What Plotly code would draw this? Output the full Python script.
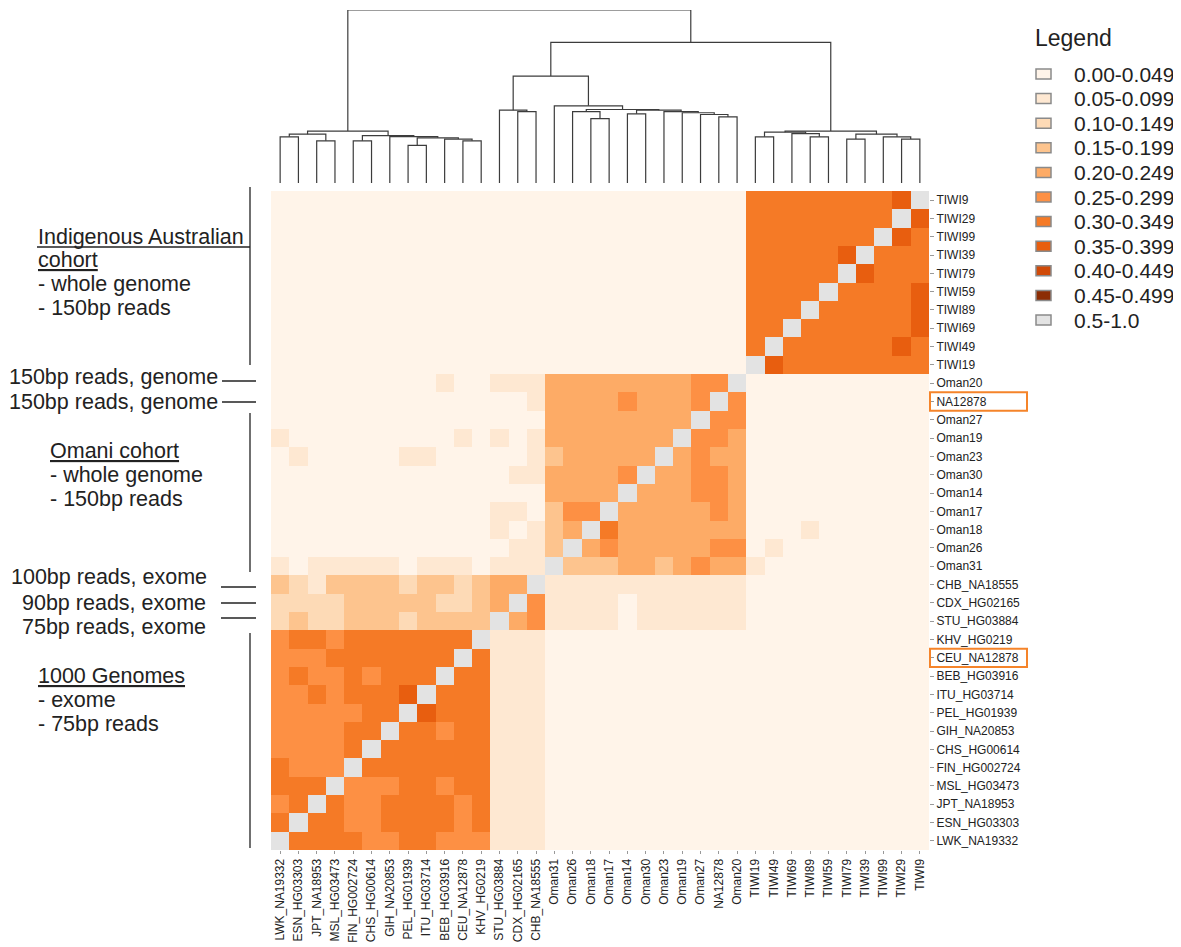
import plotly.graph_objects as go

# ---------------- data ----------------
col_labels = ["LWK_NA19332", "ESN_HG03303", "JPT_NA18953", "MSL_HG03473", "FIN_HG002724",
              "CHS_HG00614", "GIH_NA20853", "PEL_HG01939", "ITU_HG03714", "BEB_HG03916",
              "CEU_NA12878", "KHV_HG0219", "STU_HG03884", "CDX_HG02165", "CHB_NA18555",
              "Oman31", "Oman26", "Oman18", "Oman17", "Oman14", "Oman30", "Oman23", "Oman19",
              "Oman27", "NA12878", "Oman20", "TIWI19", "TIWI49", "TIWI69", "TIWI89", "TIWI59",
              "TIWI79", "TIWI39", "TIWI99", "TIWI29", "TIWI9"]

row_labels = ["TIWI9", "TIWI29", "TIWI99", "TIWI39", "TIWI79", "TIWI59", "TIWI89", "TIWI69",
              "TIWI49", "TIWI19", "Oman20", "NA12878", "Oman27", "Oman19", "Oman23", "Oman30",
              "Oman14", "Oman17", "Oman18", "Oman26", "Oman31", "CHB_NA18555", "CDX_HG02165",
              "STU_HG03884", "KHV_HG0219", "CEU_NA12878", "BEB_HG03916", "ITU_HG03714",
              "PEL_HG01939", "GIH_NA20853", "CHS_HG00614", "FIN_HG002724", "MSL_HG03473",
              "JPT_NA18953", "ESN_HG03303", "LWK_NA19332"]

bin_labels = ["0.00-0.049", "0.05-0.099", "0.10-0.149", "0.15-0.199", "0.20-0.249",
              "0.25-0.299", "0.30-0.349", "0.35-0.399", "0.40-0.449", "0.45-0.499", "0.5-1.0"]
bin_colors = ["#FFF4E9", "#FEE8D2", "#FDDAB6", "#FDC48E", "#FDAB66", "#FD9044",
              "#F57A26", "#E85E0F", "#D04A08", "#8C2D04", "#E3E3E3"]

# similarity bin of every cell (hex digit = index into bin_labels, A = 0.5-1.0)
# rows top -> bottom (row_labels), columns left -> right (col_labels)
# column blocks: 1000G (12) | exome (3) | Oman (11) | TIWI (10)
level_rows = [
    "000000000000" "000" "00000000000" "666666667A",
    "000000000000" "000" "00000000000" "66666666A7",
    "000000000000" "000" "00000000000" "6666666A76",
    "000000000000" "000" "00000000000" "666667A666",
    "000000000000" "000" "00000000000" "66666A7666",
    "000000000000" "000" "00000000000" "6666A66667",
    "000000000000" "000" "00000000000" "666A666667",
    "000000000000" "000" "00000000000" "66A6666667",
    "000000000000" "000" "00000000000" "6A66666676",
    "000000000000" "000" "00000000000" "A766666666",
    "000000000100" "111" "4444444455A" "0000000000",
    "000000000000" "001" "444454445A5" "0000000000",
    "000000000000" "000" "44444444A55" "0000000000",
    "100000000010" "101" "4444444A554" "0000000000",
    "010000011000" "001" "344444A4544" "0000000000",
    "000000000000" "011" "44445A44554" "0000000000",
    "000000000000" "000" "4444A444554" "0000000000",
    "000000000000" "110" "355A4444454" "0000000000",
    "000000000000" "101" "34A64444444" "0001000000",
    "000000000000" "011" "3A454444455" "0100000000",
    "101111101110" "111" "A3334434544" "1000000000",
    "321333323323" "44A" "11111111111" "0000000000",
    "222233333223" "4A5" "11110111111" "0000000000",
    "232233323333" "A45" "11110111111" "0000000000",
    "56656666666A" "111" "00000000000" "0000000000",
    "5556666666A6" "111" "00000000000" "0000000000",
    "565565666A66" "111" "00000000000" "0000000000",
    "55656667A666" "111" "00000000000" "0000000000",
    "5555566A7666" "111" "00000000000" "0000000000",
    "555566A66566" "111" "00000000000" "0000000000",
    "55556A666666" "111" "00000000000" "0000000000",
    "6555A6666666" "111" "00000000000" "0000000000",
    "666A55566566" "111" "00000000000" "0000000000",
    "56A655666656" "111" "00000000000" "0000000000",
    "6A6655666656" "111" "00000000000" "0000000000",
    "A66665566555" "111" "00000000000" "0000000000",
]

# dendrogram linkage: (left id, right id, merge height); ids >= 36 refer to earlier merges
linkage = [
    (0, 1, 0.267), (2, 3, 0.244), (36, 37, 0.282), (4, 5, 0.244), (7, 8, 0.217),
    (10, 11, 0.244), (9, 41, 0.254), (40, 42, 0.261), (6, 43, 0.268), (39, 44, 0.274),
    (38, 45, 0.300), (13, 14, 0.413), (12, 47, 0.421), (17, 18, 0.372), (16, 49, 0.413),
    (19, 20, 0.400), (24, 25, 0.382), (23, 52, 0.396), (22, 53, 0.406), (21, 54, 0.413),
    (51, 55, 0.421), (50, 56, 0.425), (15, 57, 0.446), (48, 58, 0.618), (26, 27, 0.267),
    (29, 30, 0.267), (28, 61, 0.285), (60, 62, 0.294), (31, 32, 0.254), (34, 35, 0.254),
    (33, 65, 0.267), (64, 66, 0.282), (63, 67, 0.300), (59, 68, 0.813), (46, 69, 1.000),
]

highlighted = ["NA12878", "CEU_NA12878"]

left_text = [
    ("Indigenous Australian", 37, 237),
    ("<u>cohort</u>", 37, 260),
    ("- whole genome", 37, 284),
    ("- 150bp reads", 37, 308),
    ("150bp reads, genome", 8, 377),
    ("150bp reads, genome", 8, 402),
    ("<u>Omani cohort</u>", 49, 451),
    ("- whole genome", 49, 475),
    ("- 150bp reads", 49, 499),
    ("100bp reads, exome", 10, 577),
    ("90bp reads, exome", 21, 603),
    ("75bp reads, exome", 21, 627),
    ("<u>1000 Genomes</u>", 37, 676),
    ("- exome", 37, 700),
    ("- 75bp reads", 37, 724),
]

# ---------------- build ----------------
PAGE_W, PAGE_H = 1181, 947
OFF = 8                      # default body margin of the html page
W, H = PAGE_W - OFF, PAGE_H - OFF


def fx(x):
    return (x - OFF) / W


def fy(y):
    return 1 - (y - OFF) / H


n = len(col_labels)
levels = [[int(ch, 16) for ch in row] for row in level_rows]

nb = len(bin_colors)
colorscale = []
for i, c in enumerate(bin_colors):
    colorscale.append([i / nb, c])
    colorscale.append([(i + 1) / nb, c])

fig = go.Figure()
fig.add_trace(go.Heatmap(
    z=levels, x=list(range(n)), y=list(range(n)),
    colorscale=colorscale, zmin=-0.5, zmax=nb - 0.5, showscale=False,
    hoverinfo="skip", xaxis="x", yaxis="y"))

# dendrogram from linkage
pos = {i: float(i) for i in range(n)}
hgt = {i: 0.0 for i in range(n)}
dx, dy = [], []
for k, (a, b, h) in enumerate(linkage):
    xa, xb = pos[a], pos[b]
    dx += [xa, xa, xb, xb, None]
    dy += [hgt[a], h, h, hgt[b], None]
    pos[n + k] = (xa + xb) / 2
    hgt[n + k] = h
fig.add_trace(go.Scatter(x=dx, y=dy, mode="lines", line=dict(color="#3c3c3c", width=1.2),
                         hoverinfo="skip", showlegend=False, xaxis="x2", yaxis="y2"))

hx0, hx1 = 271, 929
hy0, hy1 = 191, 850
leaf_y, top_y = 183, 10      # dendrogram leaf ends / root height (page px)
font_family = "Liberation Sans, Arial, sans-serif"

fig.update_layout(
    width=W, height=H, margin=dict(l=0, r=0, t=0, b=0),
    paper_bgcolor="white", plot_bgcolor="white", showlegend=False,
    font=dict(family=font_family, color="#222222"),
    xaxis=dict(domain=[fx(hx0), fx(hx1)], range=[-0.5, n - 0.5], anchor="y",
               tickmode="array", tickvals=list(range(n)), ticktext=col_labels,
               tickangle=-90, tickfont=dict(size=12, color="#222"), ticks="outside",
               ticklen=3, tickcolor="#999", showgrid=False, zeroline=False, showline=False),
    yaxis=dict(domain=[fy(hy1), fy(hy0)], range=[n - 0.5, -0.5], anchor="x", side="right",
               tickmode="array", tickvals=list(range(n)), ticktext=row_labels,
               tickfont=dict(size=12, color="#222"), ticks="outside", ticklen=4,
               tickcolor="#999", showgrid=False, zeroline=False, showline=False),
    xaxis2=dict(domain=[fx(hx0), fx(hx1)], range=[-0.5, n - 0.5], anchor="y2", visible=False),
    yaxis2=dict(domain=[fy(leaf_y), fy(top_y)], range=[0, 1.0], anchor="x2", visible=False),
)

shapes = []
annotations = []

# highlight boxes around row labels
for lab in highlighted:
    r = row_labels.index(lab)
    shapes.append(dict(type="rect", xref="paper", yref="y", x0=fx(930), x1=fx(1027),
                       y0=r - 0.5, y1=r + 0.5, line=dict(color="#F5842A", width=2)))

# legend
annotations.append(dict(text="Legend", x=fx(1033), y=fy(38), xref="paper", yref="paper",
                        xanchor="left", yanchor="middle", showarrow=False,
                        font=dict(size=23, color="#222")))
for i, (lab, c) in enumerate(zip(bin_labels, bin_colors)):
    cy = 74 + i * 24.6
    shapes.append(dict(type="rect", xref="paper", yref="paper", x0=fx(1036), x1=fx(1051),
                       y0=fy(cy - 5), y1=fy(cy + 5), fillcolor=c,
                       line=dict(color="#8a8a8a", width=1.5)))
    annotations.append(dict(text=lab, x=fx(1072), y=fy(cy), xref="paper", yref="paper",
                            xanchor="left", yanchor="middle", showarrow=False,
                            font=dict(size=21, color="#222")))

# left group annotations
for t, x, y in left_text:
    annotations.append(dict(text=t, x=fx(x), y=fy(y), xref="paper", yref="paper",
                            xanchor="left", yanchor="middle", showarrow=False, borderpad=0,
                            font=dict(size=21.5, color="#222")))

line_style = dict(color="#222", width=1.3)
for (y0, y1) in [(187, 365), (413, 572), (633, 848)]:
    shapes.append(dict(type="line", xref="paper", yref="paper", x0=fx(250), x1=fx(250),
                       y0=fy(y0), y1=fy(y1), line=line_style))
for (x0, x1, y) in [(37, 250, 247), (222, 256, 381), (222, 256, 402), (221, 256, 587),
                    (221, 256, 603), (221, 256, 618)]:
    shapes.append(dict(type="line", xref="paper", yref="paper", x0=fx(x0), x1=fx(x1),
                       y0=fy(y), y1=fy(y), line=line_style))

fig.update_layout(shapes=shapes, annotations=annotations)
fig.write_html("out.html")
